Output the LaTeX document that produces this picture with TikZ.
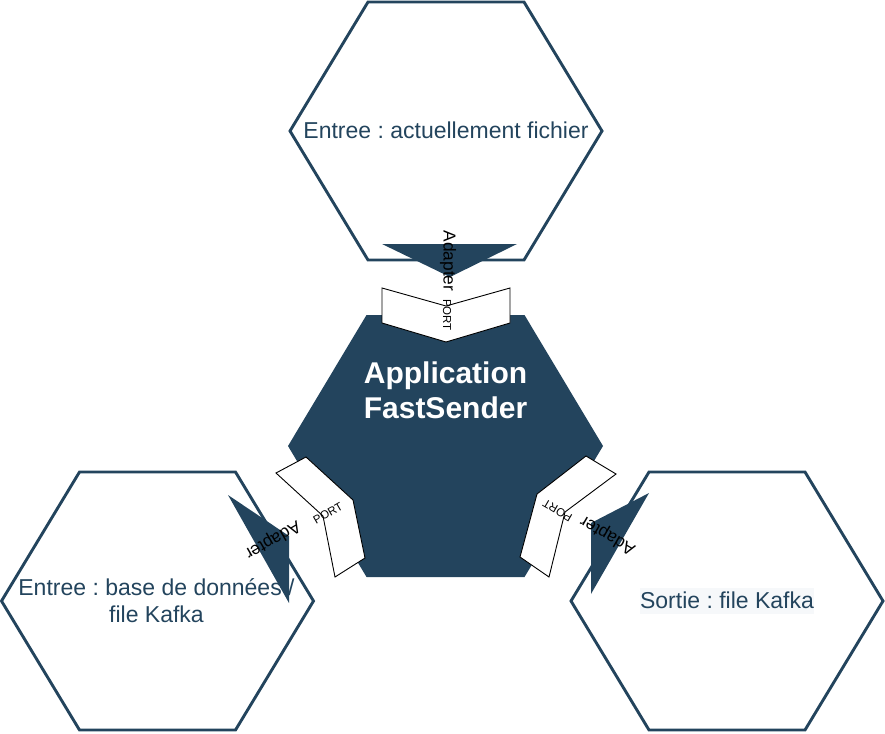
\documentclass[tikz,border=0pt]{standalone}
\usepackage{fontspec}
\setmainfont{Liberation Sans}
\frenchspacing
\definecolor{bleu}{HTML}{23445D}
\definecolor{fond}{RGB}{246,248,250}
\begin{document}
\begin{tikzpicture}[x=1pt,y=-1pt,
	hexa/.style={draw=bleu,line width=2.9pt},
	portbox/.style={draw=black,fill=white,line width=0.9pt},
	txt/.style={text=bleu,inner sep=0pt,align=center,font=\fontsize{23}{27.6}\selectfont},
	lbladapt/.style={text=black,inner sep=0pt,font=\fontsize{17.3}{20}\selectfont},
	lblport/.style={text=black,inner sep=0pt,font=\fontsize{11.5}{13}\selectfont}]
	\useasboundingbox (0,0) rectangle (885,733);
	% les trois hexagones exterieurs
	\foreach \cx/\cy in {446/131,157.5/601,727/601}
	\draw[hexa] (\cx-156,\cy) -- (\cx-78,\cy-129) -- (\cx+78,\cy-129) -- (\cx+156,\cy)
	-- (\cx+78,\cy+129) -- (\cx-78,\cy+129) -- cycle;
	% hexagone central
	\fill[bleu] (288,446) -- (366.5,315) -- (524.5,315) -- (603,446) -- (524.5,577) -- (366.5,577) -- cycle;
	% adaptateurs
	\fill[bleu] (382,244) -- (517,244) -- (450,277) -- cycle;
	\fill[bleu] (228,495) -- (289,603) -- (289,536) -- cycle;
	\fill[bleu] (649,493) -- (591,594) -- (591,523) -- cycle;
	% ports
	\draw[portbox] (382,288) -- (446,306) -- (510,288) -- (510,323) -- (446,342) -- (382,323) -- cycle;
	\draw[portbox] (276,473) -- (306,457) -- (353,500) -- (365,558) -- (335,577) -- (323,516) -- cycle;
	\draw[portbox] (586,456) -- (616,474) -- (565,512) -- (549,577) -- (520,557) -- (537,494) -- cycle;
	% textes
	\node[txt,text height=20pt,text depth=6pt] (entree) at (446,131) {Entree : actuellement fichier};
	\node[txt] (base) at (156.5,600.5) {Entree : base de données /\\file Kafka};
	\node[txt,fill=fond,text height=20pt,text depth=6pt] (sortie) at (727,601) {Sortie : file Kafka};
	\node[text=white,align=center,font=\bfseries\fontsize{30}{35}\selectfont] (app) at (445.5,390) {Application\\FastSender};
	\node[lbladapt,rotate=-90] (adaptHaut) at (448,261) {Adapter};
	\node[lblport,rotate=-90] (portHaut) at (447,315) {PORT};
	\node[lbladapt,rotate=210] (adaptGauche) at (272.5,539.5) {Adapter};
	\node[lblport,rotate=30] (portGauche) at (328,513) {PORT};
	\node[lbladapt,rotate=150] (adaptDroite) at (608,535) {Adapter};
	\node[lblport,rotate=150] (portDroite) at (557.5,510.5) {PORT};
\end{tikzpicture}
\end{document}
